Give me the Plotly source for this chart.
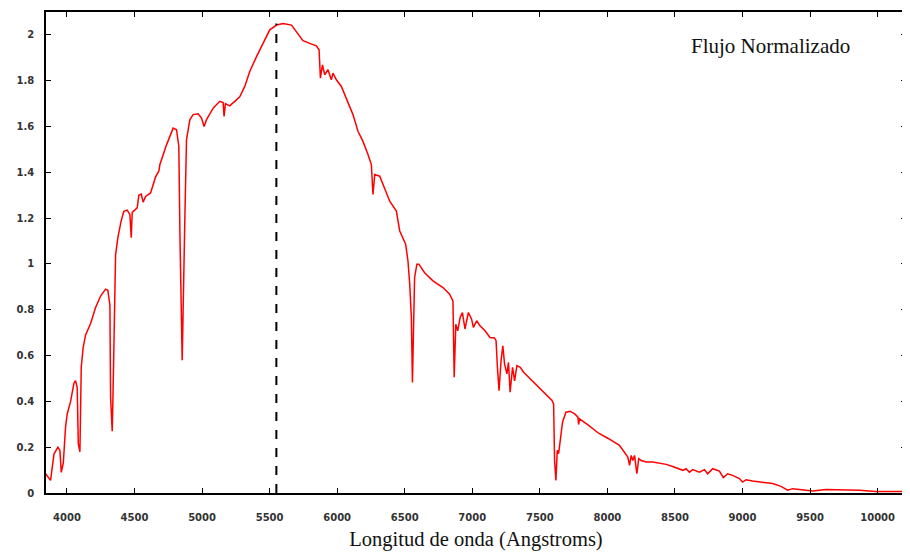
import plotly.graph_objects as go

# Wavelength (Angstroms) and normalized flux
wavelength = [
    3842, 3879, 3904, 3933, 3948, 3958, 3973, 3990, 4002, 4027, 4052, 4064, 4076, 4084, 4096,
    4106, 4120, 4138, 4175, 4212, 4249, 4286, 4303, 4318, 4323, 4335, 4341, 4353, 4360, 4377,
    4402, 4421, 4446, 4466, 4476, 4483, 4520, 4532, 4550, 4564, 4582, 4619, 4656, 4680, 4688,
    4737, 4786, 4811, 4828, 4836, 4853, 4873, 4885, 4910, 4934, 4971, 4996, 5015, 5033, 5082,
    5131, 5156, 5163, 5173, 5205, 5242, 5279, 5316, 5353, 5403, 5452, 5501, 5551, 5600, 5662,
    5699, 5747, 5797, 5846, 5866, 5876, 5891, 5908, 5932, 5957, 5969, 5994, 6031, 6068, 6117,
    6154, 6191, 6228, 6253, 6265, 6278, 6315, 6352, 6389, 6438, 6463, 6507, 6524, 6537, 6549,
    6557, 6568, 6573, 6590, 6605, 6647, 6709, 6783, 6832, 6857, 6866, 6878, 6892, 6910, 6927,
    6946, 6971, 6995, 7008, 7033, 7057, 7094, 7131, 7164, 7176, 7186, 7198, 7213, 7226, 7239,
    7256, 7268, 7280, 7298, 7313, 7330, 7355, 7380, 7442, 7516, 7590, 7602, 7609, 7619, 7629,
    7639, 7651, 7668, 7693, 7725, 7762, 7782, 7787, 7794, 7861, 7935, 8009, 8089, 8126, 8151,
    8164, 8176, 8188, 8201, 8218, 8232, 8250, 8287, 8336, 8385, 8435, 8484, 8533, 8558, 8582,
    8607, 8632, 8681, 8718, 8742, 8779, 8829, 8858, 8890, 8927, 8977, 9001, 9026, 9075, 9149,
    9223, 9285, 9334, 9371, 9420, 9470, 9519, 9618, 9717, 9864, 9988, 10197,
]
flux = [
    0.084, 0.055, 0.17, 0.20, 0.186, 0.09, 0.13, 0.29, 0.345, 0.40, 0.48, 0.49, 0.46, 0.215, 0.18,
    0.55, 0.635, 0.69, 0.74, 0.81, 0.86, 0.89, 0.885, 0.82, 0.42, 0.27, 0.43, 0.90, 1.04, 1.115,
    1.19, 1.23, 1.235, 1.215, 1.115, 1.225, 1.245, 1.30, 1.305, 1.27, 1.295, 1.31, 1.38, 1.405, 1.434,
    1.52, 1.593, 1.586, 1.514, 1.136, 0.58, 1.21, 1.543, 1.63, 1.652, 1.656, 1.637, 1.60, 1.63, 1.68,
    1.71, 1.705, 1.644, 1.70, 1.69, 1.71, 1.73, 1.775, 1.84, 1.905, 1.963, 2.022, 2.043, 2.05, 2.043,
    2.014, 1.975, 1.963, 1.952, 1.935, 1.811, 1.869, 1.826, 1.848, 1.804, 1.833, 1.804, 1.775, 1.724, 1.652,
    1.579, 1.535, 1.478, 1.434, 1.303, 1.39, 1.383, 1.332, 1.274, 1.231, 1.144, 1.086, 1.013, 0.912, 0.766,
    0.483, 0.752, 0.94, 0.999, 0.999, 0.962, 0.926, 0.897, 0.868, 0.839, 0.505, 0.737, 0.708, 0.766, 0.788,
    0.716, 0.788, 0.759, 0.723, 0.752, 0.73, 0.708, 0.679, 0.677, 0.665, 0.549, 0.447, 0.578, 0.643, 0.563,
    0.52, 0.57, 0.44, 0.549, 0.49, 0.556, 0.549, 0.527, 0.49, 0.447, 0.404, 0.389, 0.142, 0.055, 0.186,
    0.172, 0.229, 0.309, 0.353, 0.357, 0.343, 0.331, 0.299, 0.324, 0.295, 0.261, 0.237, 0.208, 0.178, 0.157,
    0.121, 0.164, 0.142, 0.164, 0.084, 0.15, 0.142, 0.135, 0.135, 0.131, 0.125, 0.116, 0.106, 0.099, 0.106,
    0.091, 0.102, 0.091, 0.102, 0.084, 0.106, 0.096, 0.067, 0.084, 0.077, 0.063, 0.048, 0.058, 0.052, 0.048,
    0.041, 0.029, 0.012, 0.019, 0.016, 0.014, 0.009, 0.015, 0.015, 0.012, 0.007, 0.007,
]

# Peak marker (dashed vertical line)
peak_wavelength = 5550
peak_flux = 2.05

x_ticks = [4000, 4500, 5000, 5500, 6000, 6500, 7000, 7500, 8000, 8500, 9000, 9500, 10000]
x_tick_labels = ["4000", "4500", "5000", "5500", "6000", "6500", "7000", "7500", "8000",
                 "8500", "9000", "9500", "10000"]
y_ticks = [0, 0.2, 0.4, 0.6, 0.8, 1, 1.2, 1.4, 1.6, 1.8, 2]
y_tick_labels = ["0", "0.2", "0.4", "0.6", "0.8", "1", "1.2", "1.4", "1.6", "1.8", "2"]

fig = go.Figure()
fig.add_trace(go.Scatter(
    x=wavelength, y=flux, mode="lines",
    line=dict(color="#ff0000", width=1.5),
    showlegend=False, hoverinfo="x+y",
))
fig.add_trace(go.Scatter(
    x=[peak_wavelength, peak_wavelength], y=[0, peak_flux], mode="lines",
    line=dict(color="black", width=2, dash="dash"),
    showlegend=False,
))

tick_font = dict(family="DejaVu Sans", size=10, color="#333333", weight="bold")

fig.update_layout(
    width=902, height=546,
    margin=dict(l=38, r=3, t=2, b=61),
    paper_bgcolor="white", plot_bgcolor="white",
    xaxis=dict(
        range=[3845, 10210], tickvals=x_ticks, ticktext=x_tick_labels, ticks="inside",
        ticklen=5, tickwidth=1.2, tickcolor="black", mirror="ticks", showline=True,
        linecolor="black", linewidth=1.5, showgrid=False, zeroline=False,
        tickfont=tick_font, ticklabelstandoff=14,
        title=dict(text="Longitud de onda (Angstroms)",
                   font=dict(family="Liberation Serif", size=20.5, color="#111111"),
                   standoff=10),
    ),
    yaxis=dict(
        range=[0, 2.1], tickvals=y_ticks, ticktext=y_tick_labels, ticks="inside",
        ticklen=5, tickwidth=1.2, tickcolor="black", mirror="ticks", showline=True,
        linecolor="black", linewidth=1.5, showgrid=False, zeroline=False,
        tickfont=tick_font, ticklabelstandoff=8,
    ),
    annotations=[dict(
        text="Flujo Normalizado", xref="paper", yref="paper",
        x=0.843, y=0.93, xanchor="center", yanchor="middle", showarrow=False,
        font=dict(family="Liberation Serif", size=21, color="#111111"),
    )],
)

fig.write_html("out.html")
